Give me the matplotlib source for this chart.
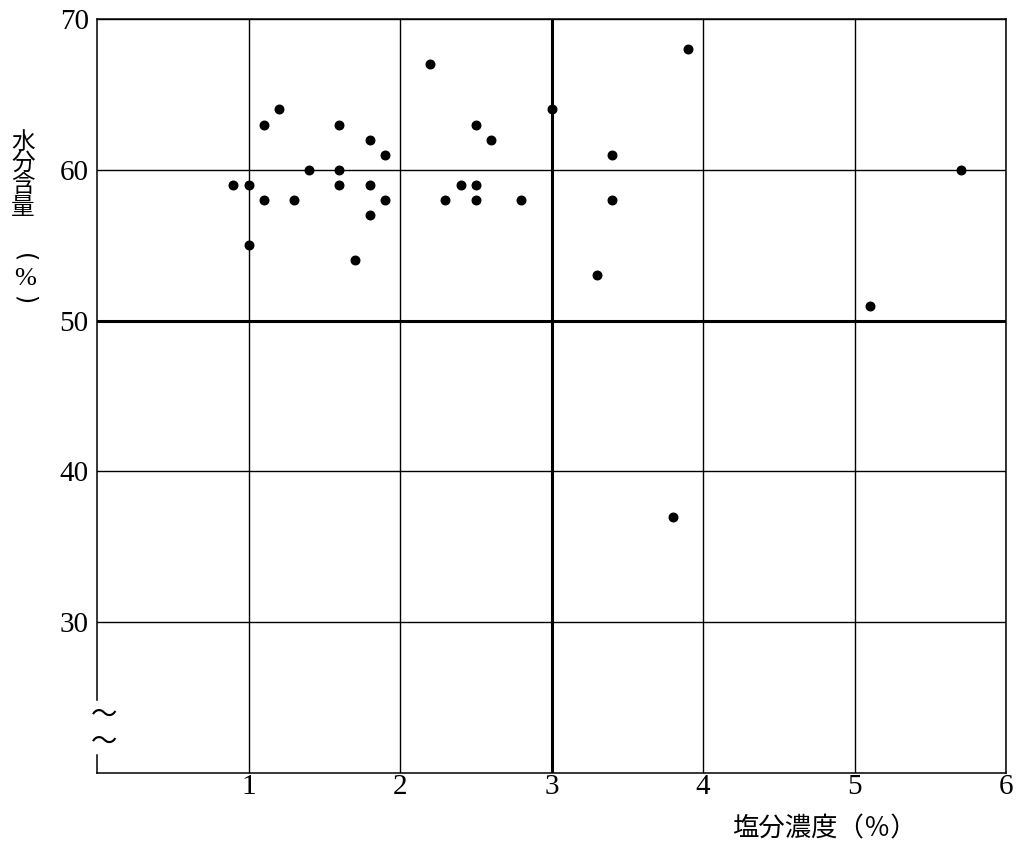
#!/usr/bin/env python
# -*- coding: utf-8 -*-

import matplotlib
matplotlib.use("Agg")
from matplotlib import pyplot as plt

# 塩分濃度 (%) と 水分含量 (%)
salt = [0.9, 1.0, 1.0, 1.1, 1.1, 1.2, 1.3, 1.4, 1.6, 1.6, 1.6, 1.7,
        1.8, 1.8, 1.8, 1.9, 1.9, 2.2, 2.3, 2.4, 2.5, 2.5, 2.5, 2.6,
        2.8, 3.0, 3.3, 3.4, 3.4, 3.8, 3.9, 5.1, 5.7]
water = [59, 59, 55, 63, 58, 64, 58, 60, 63, 60, 59, 54,
         62, 59, 57, 61, 58, 67, 58, 59, 63, 59, 58, 62,
         58, 64, 53, 61, 58, 37, 68, 51, 60]

x_ticks = [1, 2, 3, 4, 5, 6]
y_ticks = [30, 40, 50, 60, 70]

W, H = 1024, 851
fig = plt.figure(figsize=(W / 100, H / 100), dpi=100)
ax = fig.add_axes([97 / W, 1 - 773 / H, 909 / W, 754 / H])

ax.set_xlim(0, 6)
ax.set_ylim(20, 70)
ax.set_xticks(x_ticks)
ax.set_yticks(y_ticks)
ax.set_xticklabels([str(t) for t in x_ticks], family="Liberation Serif", fontsize=21)
ax.set_yticklabels([str(t) for t in y_ticks], family="Liberation Serif", fontsize=21)
ax.tick_params(axis="x", length=0, pad=1)
ax.tick_params(axis="y", length=0, pad=6)

# 格子線
ax.grid(True, color="black", linewidth=1.0)
ax.axvline(3, color="black", linewidth=2.2)
ax.axhline(50, color="black", linewidth=2.2)

for s in ["top", "right", "bottom"]:
    ax.spines[s].set_linewidth(1.1)
ax.spines["left"].set_visible(False)

# 縦軸の省略記号
ax.plot([0, 0], [24.84, 70], color="black", lw=1.1, clip_on=False)
ax.plot([0, 0], [20, 21.19], color="black", lw=1.1, clip_on=False)
for py in [715, 742]:
    fig.text(104 / W, 1 - py / H, "〜", family="Noto Sans CJK JP", fontsize=19,
             ha="center", va="center")

ax.scatter(salt, water, s=38, color="black", zorder=5, clip_on=False)

# 軸ラベル
fig.text(824 / W, 1 - 829 / H, "塩分濃度（％）", family="Noto Sans CJK JP",
         fontsize=19, ha="center", va="center")
for ch, py in zip("水分含量", [142, 163, 185, 207]):
    fig.text(23 / W, 1 - py / H, ch, family="Noto Sans CJK JP",
             fontsize=17, ha="center", va="center")
# 縦書きの括弧は横書きの括弧を回して描く
fig.text(25 / W, 1 - 258 / H, "(", family="DejaVu Sans", fontsize=17,
         rotation=270, ha="center", va="center")
fig.text(25 / W, 1 - 279 / H, "%", family="Liberation Serif", fontsize=19,
         ha="center", va="center")
fig.text(25 / W, 1 - 300 / H, ")", family="DejaVu Sans", fontsize=17,
         rotation=270, ha="center", va="center")

fig.savefig("out.png", dpi=100)
